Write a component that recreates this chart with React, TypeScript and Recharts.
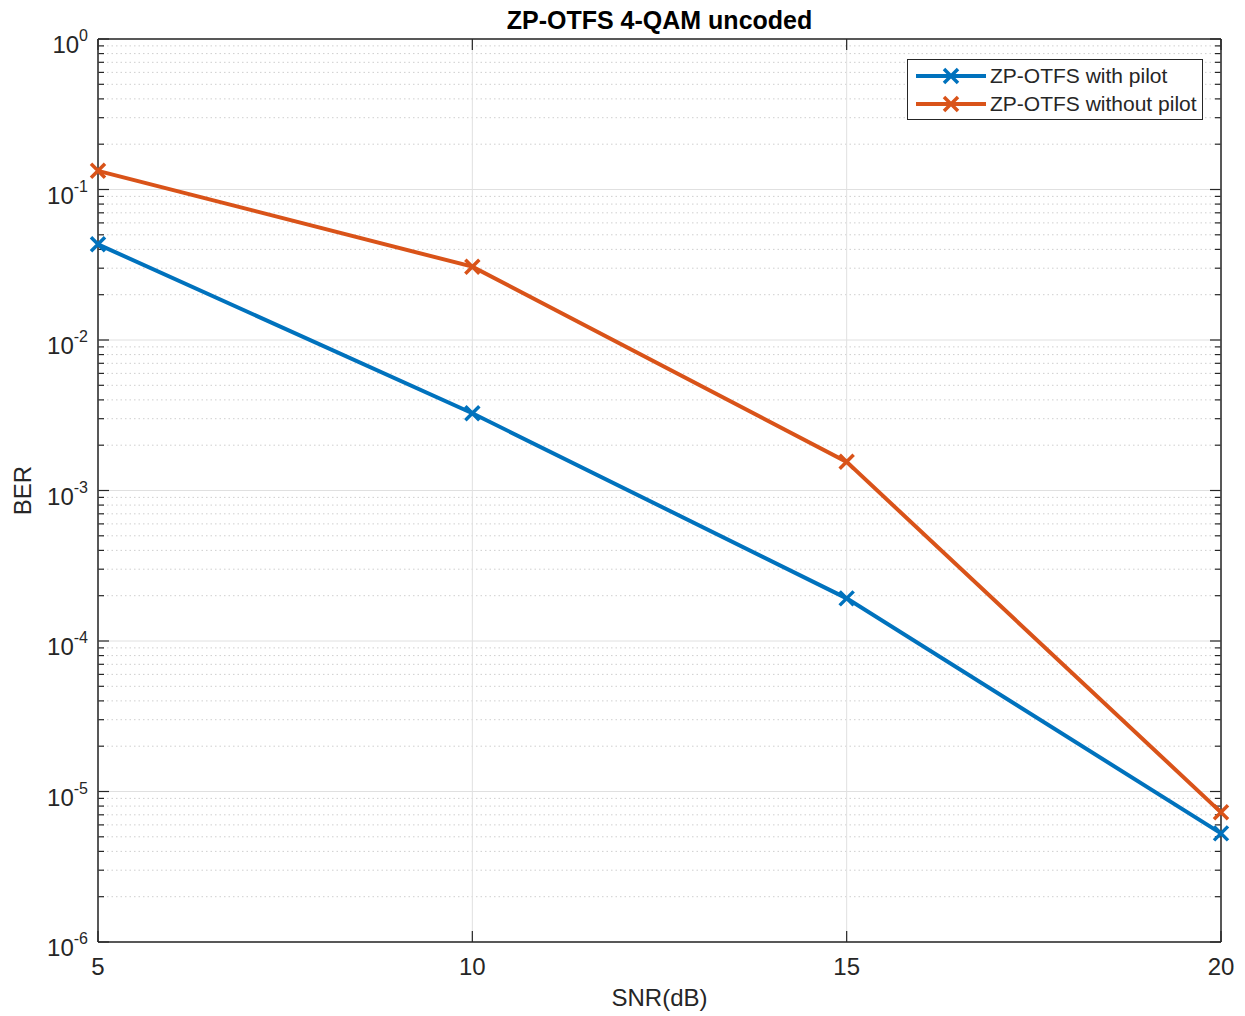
import React from 'react';
import {
  LineChart,
  Line,
  XAxis,
  YAxis,
  ReferenceLine,
  Legend
} from 'recharts';

const snr = [5, 10, 15, 20];
const withPilot = [0.0432, 0.00326, 1.92e-4, 5.27e-6];
const withoutPilot = [0.133, 0.0307, 1.55e-3, 7.27e-6];

const xTicks = [5, 10, 15, 20];
const decades = [1e-6, 1e-5, 1e-4, 1e-3, 1e-2, 1e-1, 1];
const minorSteps = [2, 3, 4, 5, 6, 7, 8, 9];
const minorTicks = decades.slice(0, -1).flatMap((d) => minorSteps.map((m) => m * d));

const data = snr.map((s, i) => ({
  snr: s,
  withPilot: withPilot[i],
  withoutPilot: withoutPilot[i]
}));

const FONT = '"Liberation Sans", Arial, Helvetica, sans-serif';
const AXIS = '#262626';
const BLUE = '#0072BD';
const ORANGE = '#D95319';

const crossPath = (cx: number, cy: number, s: number) =>
  `M${cx - s},${cy - s}L${cx + s},${cy + s}M${cx - s},${cy + s}L${cx + s},${cy - s}`;

const makeCross = (color: string) => (props: any) => {
  const { cx, cy, index } = props;
  if (cx == null || cy == null) return null;
  return (
    <path key={`c-${index}`} d={crossPath(cx, cy, 7)} stroke={color} strokeWidth={3.5} fill="none" />
  );
};

// inward tick marks on both ends of a grid line (drawn as the line's label)
const HTicks = (props: any) => {
  const { viewBox, len } = props;
  if (!viewBox) return null;
  const { x, y, width } = viewBox;
  return (
    <g stroke={AXIS} strokeWidth={1.2}>
      <line x1={x} x2={x + len} y1={y} y2={y} />
      <line x1={x + width - len} x2={x + width} y1={y} y2={y} />
    </g>
  );
};

const VTicks = (props: any) => {
  const { viewBox, len } = props;
  if (!viewBox) return null;
  const { x, y, height } = viewBox;
  return (
    <g stroke={AXIS} strokeWidth={1.2}>
      <line x1={x} x2={x} y1={y} y2={y + len} />
      <line x1={x} x2={x} y1={y + height - len} y2={y + height} />
    </g>
  );
};

const LogTick = (props: any) => {
  const { x, y, payload } = props;
  const exp = Math.round(Math.log10(payload.value));
  return (
    <text x={x} y={y} textAnchor="end" fill={AXIS} fontFamily={FONT} fontSize={24}>
      <tspan dy={14}>10</tspan>
      <tspan fontSize={16} dy={-12}>{exp}</tspan>
    </text>
  );
};

const XTick = (props: any) => {
  const { x, y, payload } = props;
  return (
    <text x={x} y={y} dy={23} textAnchor="middle" fill={AXIS} fontFamily={FONT} fontSize={24}>
      {payload.value}
    </text>
  );
};

const renderLegend = (props: any) => {
  const { payload } = props;
  return (
    <div
      style={{
        border: `1px solid ${AXIS}`,
        background: '#fff',
        width: 296,
        height: 61,
        boxSizing: 'border-box',
        paddingTop: 2
      }}
    >
      {(payload || []).map((entry: any) => (
        <div key={entry.value} style={{ display: 'flex', alignItems: 'center', height: 28 }}>
          <svg width={82} height={28} style={{ flex: 'none' }}>
            <line x1={8} x2={78} y1={14} y2={14} stroke={entry.color} strokeWidth={4} />
            <path d={crossPath(43, 14, 7)} stroke={entry.color} strokeWidth={3.5} fill="none" />
          </svg>
          <span style={{ fontFamily: FONT, fontSize: 21, color: AXIS, whiteSpace: 'nowrap' }}>
            {entry.value}
          </span>
        </div>
      ))}
    </div>
  );
};

export default function App() {
  return (
    <div style={{ position: 'absolute', left: 0, top: 0, background: '#fff' }}>
      <LineChart
        width={1245}
        height={1016}
        data={data}
        margin={{ top: 39, right: 24, left: 0, bottom: 0 }}
      >
        {minorTicks.map((v) => (
          <ReferenceLine
            key={`m${v}`}
            y={v}
            stroke="#cfcfcf"
            strokeDasharray="1.5 3"
            label={<HTicks len={6} />}
          />
        ))}
        {decades.map((v) => (
          <ReferenceLine key={`d${v}`} y={v} stroke="#e0e0e0" label={<HTicks len={11} />} />
        ))}
        {xTicks.map((v) => (
          <ReferenceLine key={`x${v}`} x={v} stroke="#e0e0e0" label={<VTicks len={11} />} />
        ))}
        <XAxis
          dataKey="snr"
          type="number"
          domain={[5, 20]}
          ticks={xTicks}
          height={74}
          tickLine={false}
          tickSize={0}
          tickMargin={10}
          tick={<XTick />}
          axisLine={{ stroke: AXIS, strokeWidth: 1.5 }}
          label={{
            value: 'SNR(dB)',
            position: 'insideBottom',
            offset: 10,
            fill: AXIS,
            fontSize: 24,
            fontFamily: FONT
          }}
        />
        <XAxis
          xAxisId="tt"
          type="number"
          domain={[5, 20]}
          orientation="top"
          mirror
          height={1}
          tick={false}
          tickLine={false}
          axisLine={{ stroke: AXIS, strokeWidth: 1.5 }}
          label={{
            value: 'ZP-OTFS 4-QAM uncoded',
            position: 'top',
            offset: 10,
            fill: '#000',
            fontSize: 25,
            fontWeight: 'bold',
            fontFamily: FONT
          }}
        />
        <YAxis
          scale="log"
          type="number"
          domain={[1e-6, 1]}
          ticks={decades}
          width={98}
          tickLine={false}
          tickSize={0}
          tickMargin={10}
          tick={<LogTick />}
          axisLine={{ stroke: AXIS, strokeWidth: 1.5 }}
          label={{
            value: 'BER',
            angle: -90,
            position: 'insideLeft',
            offset: 22,
            fill: AXIS,
            fontSize: 24,
            fontFamily: FONT,
            style: { textAnchor: 'middle' }
          }}
        />
        <YAxis
          yAxisId="rt"
          scale="log"
          type="number"
          domain={[1e-6, 1]}
          orientation="right"
          mirror
          width={1}
          tick={false}
          tickLine={false}
          axisLine={{ stroke: AXIS, strokeWidth: 1.5 }}
        />
        <Legend
          layout="horizontal"
          verticalAlign="middle"
          align="center"
          content={renderLegend}
          wrapperStyle={{ left: 907, top: 59, width: 296, height: 61 }}
        />
        <Line
          type="linear"
          dataKey="withPilot"
          name="ZP-OTFS with pilot"
          stroke={BLUE}
          strokeWidth={4}
          dot={makeCross(BLUE)}
          activeDot={false}
          isAnimationActive={false}
        />
        <Line
          type="linear"
          dataKey="withoutPilot"
          name="ZP-OTFS without pilot"
          stroke={ORANGE}
          strokeWidth={4}
          dot={makeCross(ORANGE)}
          activeDot={false}
          isAnimationActive={false}
        />
      </LineChart>
    </div>
  );
}
